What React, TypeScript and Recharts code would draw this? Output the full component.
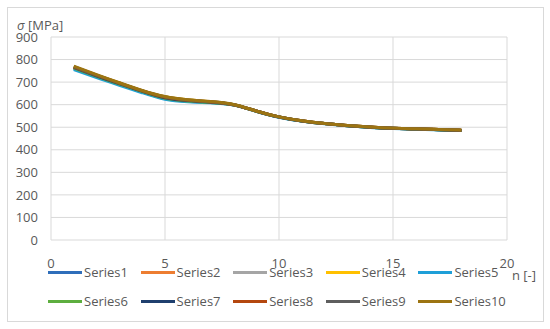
import { LineChart, Line, XAxis, YAxis, CartesianGrid } from "recharts";

// cycle number n
const nValues = [1, 2, 3, 4, 5, 6, 7, 8, 9, 10, 11, 12, 13, 14, 15, 16, 17, 18];

// stress values per series, MPa
const series1 = [760, 724, 690, 657, 627, 615, 610, 599, 571, 545, 528, 516, 507, 500, 495, 492, 489, 486];
const series2 = [764, 727, 693, 659, 630, 617, 611, 600, 572, 545, 528, 516, 507, 500, 495, 492, 489, 486];
const series3 = [766, 729, 694, 660, 632, 619, 612, 600, 572, 546, 529, 517, 508, 501, 496, 493, 490, 487];
const series4 = [768, 731, 696, 662, 635, 622, 613, 601, 572, 546, 529, 517, 508, 501, 496, 493, 490, 487];
const series5 = [756, 720, 686, 653, 624, 613, 608, 598, 571, 544, 527, 515, 506, 499, 494, 491, 488, 485];
const series6 = [762, 726, 691, 658, 628, 616, 610, 599, 571, 545, 528, 516, 507, 500, 495, 492, 489, 486];
const series7 = [765, 728, 693, 660, 631, 618, 611, 600, 572, 545, 528, 516, 507, 500, 495, 492, 489, 486];
const series8 = [767, 730, 695, 661, 633, 620, 612, 600, 572, 546, 529, 517, 508, 501, 496, 493, 490, 487];
const series9 = [769, 731, 696, 662, 635, 621, 613, 601, 572, 546, 529, 517, 508, 501, 496, 493, 490, 487];
const series10 = [771, 733, 697, 663, 636, 622, 614, 601, 572, 546, 529, 517, 508, 501, 496, 493, 490, 487];

const seriesNames = ["Series1", "Series2", "Series3", "Series4", "Series5", "Series6", "Series7", "Series8", "Series9", "Series10"];
const seriesValues = [series1, series2, series3, series4, series5, series6, series7, series8, series9, series10];
const seriesColors = ["#2F6EBA", "#ED7D31", "#A5A5A5", "#FFC000", "#1E9FD8", "#5DAE3F", "#1F3F6E", "#B4470F", "#5E5E5E", "#9C7412"];

const xTicks = [0, 5, 10, 15, 20];
const yTicks = [0, 100, 200, 300, 400, 500, 600, 700, 800, 900];

const chartData = nValues.map((n, i) => {
  const row: Record<string, number> = { n };
  seriesNames.forEach((name, s) => {
    row[name] = seriesValues[s][i];
  });
  return row;
});

const FONT = "'Open Sans', sans-serif";
const TEXT = "#595959";
const GRID = "#d9d9d9";

const App = () => {
  return (
    <div style={{ position: "absolute", left: 0, top: 0, width: 550, height: 329, background: "#fff", fontFamily: FONT }}>
      <div
        style={{
          position: "absolute",
          left: 7,
          top: 7,
          width: 535,
          height: 313,
          border: `1px solid ${GRID}`,
        }}
      />
      <LineChart
        width={550}
        height={329}
        data={chartData}
        margin={{ top: 37, right: 43, left: 11, bottom: 69 }}
        style={{ position: "absolute", left: 0, top: 0 }}
      >
        <CartesianGrid stroke={GRID} strokeWidth={1} />
        <XAxis
          dataKey="n"
          type="number"
          domain={[0, 20]}
          ticks={xTicks}
          axisLine={false}
          tickLine={false}
          tickSize={0}
          tickMargin={19}
          height={20}
          interval={0}
          tick={{ fill: TEXT, fontSize: 13, fontFamily: FONT }}
        />
        <YAxis
          type="number"
          domain={[0, 900]}
          ticks={yTicks}
          width={40}
          axisLine={false}
          tickLine={false}
          tickSize={0}
          tickMargin={13}
          interval={0}
          tick={{ fill: TEXT, fontSize: 13, fontFamily: FONT }}
        />
        {seriesNames.map((name, s) => (
          <Line
            key={name}
            type="natural"
            dataKey={name}
            stroke={seriesColors[s]}
            strokeWidth={3}
            dot={false}
            isAnimationActive={false}
          />
        ))}
      </LineChart>
      <div style={{ position: "absolute", left: 17, top: 17, color: TEXT, fontSize: 13, lineHeight: "16px" }}>
        <span style={{ fontStyle: "italic" }}>σ</span> [MPa]
      </div>
      <div style={{ position: "absolute", left: 512, top: 267, color: TEXT, fontSize: 13, lineHeight: "16px" }}>
        n [-]
      </div>
      {seriesNames.map((name, s) => (
        <div
          key={name}
          style={{
            position: "absolute",
            left: 48 + (s % 5) * 92.6,
            top: s < 5 ? 264 : 293,
            height: 16,
            display: "flex",
            alignItems: "center",
            color: TEXT,
            fontSize: 13,
            whiteSpace: "nowrap",
          }}
        >
          <span style={{ display: "inline-block", width: 34, height: 3, background: seriesColors[s], marginRight: 2 }} />
          <span>{name}</span>
        </div>
      ))}
    </div>
  );
};

export default App;
